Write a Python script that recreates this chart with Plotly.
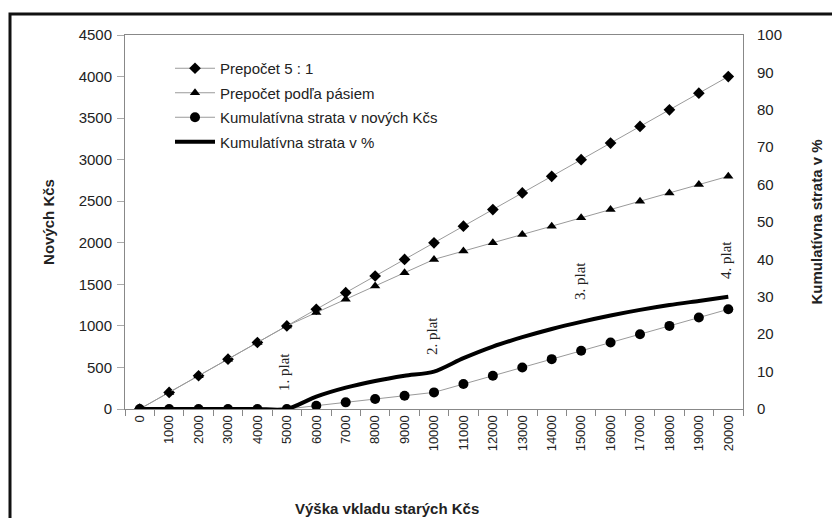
import plotly.graph_objects as go

categories = ["0", "1000", "2000", "3000", "4000", "5000", "6000", "7000", "8000", "9000",
              "10000", "11000", "12000", "13000", "14000", "15000", "16000", "17000",
              "18000", "19000", "20000"]
prepocet_5_1 = [0, 200, 400, 600, 800, 1000, 1200, 1400, 1600, 1800, 2000, 2200, 2400,
                2600, 2800, 3000, 3200, 3400, 3600, 3800, 4000]
prepocet_pasma = [0, 200, 400, 600, 800, 1000, 1160, 1320, 1480, 1640, 1800, 1900, 2000,
                  2100, 2200, 2300, 2400, 2500, 2600, 2700, 2800]
strata_kcs = [0, 0, 0, 0, 0, 0, 40, 80, 120, 160, 200, 300, 400, 500, 600, 700, 800, 900,
              1000, 1100, 1200]
strata_pct = [0, 0, 0, 0, 0, 0, 3.3, 5.7, 7.5, 8.9, 10.0, 13.6, 16.7, 19.2, 21.4, 23.3,
              25.0, 26.5, 27.8, 28.9, 30.0]
plat_labels = ["1. plat", "2. plat", "3. plat", "4. plat"]

OFF = 8  # page body margin
W, H = 840 - OFF, 518 - OFF
# plot area in screen pixels
L, R, T, B = 125, 743, 35, 409

def px(x):
    return (x - L) / (R - L)

def py(y):
    return (B - y) / (B - T)

thin = dict(color="#9a9a9a", width=1)
sans = "Liberation Sans, Arial"
txtc = "#222"

fig = go.Figure()
fig.add_trace(go.Scatter(x=categories, y=prepocet_5_1, name="Prepočet 5 : 1",
                         mode="lines+markers", line=thin,
                         marker=dict(symbol="diamond", size=9, color="black"),
                         legendgroup="a"))
fig.add_trace(go.Scatter(x=categories, y=prepocet_pasma, name="Prepočet podľa pásiem",
                         mode="lines+markers", line=thin,
                         marker=dict(symbol="triangle-up", size=9, color="black"),
                         legendgroup="b"))
fig.add_trace(go.Scatter(x=categories, y=strata_kcs, name="Kumulatívna strata v nových Kčs",
                         mode="lines+markers", line=thin,
                         marker=dict(symbol="circle", size=10, color="black"),
                         legendgroup="c"))
fig.add_trace(go.Scatter(x=categories, y=strata_pct, name="Kumulatívna strata v %",
                         mode="lines", line=dict(color="black", width=4, shape="spline",
                                                 smoothing=0.8),
                         yaxis="y2", legendgroup="d"))

tick_font = dict(family=sans, size=15, color=txtc)

fig.update_layout(
    width=W, height=H,
    margin=dict(l=L - OFF, r=W - (R - OFF), t=T - OFF, b=H - (B - OFF)),
    paper_bgcolor="white", plot_bgcolor="white",
    font=dict(family=sans, size=12, color=txtc),
    showlegend=True,
    legend=dict(x=px(170), y=py(52), xanchor="left", yanchor="top",
                bgcolor="rgba(0,0,0,0)", font=dict(family=sans, size=15, color=txtc),
                traceorder="grouped", tracegroupgap=2, itemwidth=40),
    xaxis=dict(type="category", range=[-0.5, 20.5], showline=True, linecolor="#888",
               linewidth=1, mirror=True, ticks="outside", tickson="boundaries",
               ticklen=6, tickcolor="#888", tickangle=-90, showgrid=False,
               tickfont=dict(family=sans, size=13, color=txtc)),
    yaxis=dict(range=[0, 4500], dtick=500, showline=True, linecolor="#888", linewidth=1,
               ticks="outside", ticklen=7, tickcolor="#aaa", showgrid=False, zeroline=False,
               ticklabelstandoff=2, tickfont=tick_font,
               title=dict(text="<b>Nových Kčs</b>", standoff=20,
                          font=dict(family=sans, size=15, color=txtc))),
    yaxis2=dict(range=[0, 100], dtick=10, overlaying="y", side="right", showline=True,
                linecolor="#888", linewidth=1, ticks="", showgrid=False, zeroline=False,
                ticklabelstandoff=10, tickfont=tick_font,
                title=dict(text="<b>Kumulatívna strata v %</b>", standoff=30,
                           font=dict(family=sans, size=15, color=txtc))),
)

fig.add_annotation(text="<b>Výška vkladu starých Kčs</b>", x=px(387), y=py(508),
                   xref="paper", yref="paper", showarrow=False,
                   xanchor="center", yanchor="middle",
                   font=dict(family=sans, size=15, color=txtc))

plat_pos = [(284, 372), (432, 336), (580, 281), (726, 260)]
for txt, (ax_, ay_) in zip(plat_labels, plat_pos):
    fig.add_annotation(text=txt, x=px(ax_), y=py(ay_), xref="paper", yref="paper",
                       showarrow=False, textangle=-90, xanchor="center", yanchor="middle",
                       font=dict(family="Liberation Serif, Times New Roman", size=15, color=txtc))

fig.add_shape(type="rect", xref="paper", yref="paper",
              x0=px(10), x1=px(860), y0=py(540), y1=py(14),
              line=dict(color="#111", width=3), fillcolor="rgba(0,0,0,0)", layer="above")

fig.write_html("out.html")
